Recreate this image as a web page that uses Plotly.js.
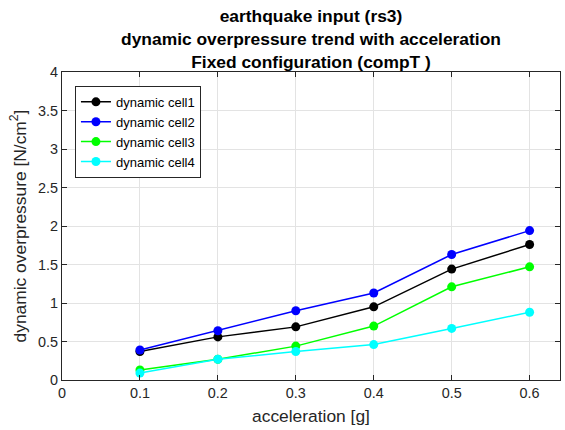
<!DOCTYPE html>
<html><head><meta charset="utf-8">
<script src="https://cdn.plot.ly/plotly-3.0.1.min.js"></script>
<style>body{margin:0;background:#fff}#chart{width:565px;height:430px}</style>
</head><body><div id="chart"></div>
<script>
const accel = [0.1, 0.2, 0.3, 0.4, 0.5, 0.6];
const cell1 = [0.37, 0.56, 0.69, 0.95, 1.44, 1.76];
const cell2 = [0.39, 0.64, 0.90, 1.13, 1.63, 1.94];
const cell3 = [0.13, 0.27, 0.44, 0.70, 1.21, 1.47];
const cell4 = [0.09, 0.27, 0.37, 0.46, 0.67, 0.88];
const names = ['dynamic cell1', 'dynamic cell2', 'dynamic cell3', 'dynamic cell4'];
const colors = ['#000000', '#0000ff', '#00ff00', '#00ffff'];
const series = [cell1, cell2, cell3, cell4];
const xTicks = [0, 0.1, 0.2, 0.3, 0.4, 0.5, 0.6];
const yTicks = [0, 0.5, 1, 1.5, 2, 2.5, 3, 3.5, 4];

const traces = series.map((s, i) => ({
  x: accel, y: s, name: names[i], type: 'scatter', mode: 'lines+markers',
  line: {color: colors[i], width: 1.5},
  marker: {color: colors[i], size: 9}
}));

const font = 'Liberation Sans, Arial, sans-serif';
const layout = {
  width: 565, height: 430,
  margin: {l: 62, r: 5, t: 72, b: 50},
  paper_bgcolor: '#fff', plot_bgcolor: '#fff',
  font: {family: font, size: 14.4, color: '#262626'},
  title: {text: '<b>earthquake input (rs3)<br>dynamic overpressure trend with acceleration<br>Fixed configuration (compT )</b>',
    font: {family: font, size: 17.4, color: '#000'},
    xref: 'paper', x: 0.5, xanchor: 'center',
    yref: 'container', y: 0.948, yanchor: 'bottom', pad: {b: 0, t: 0}},
  xaxis: {range: [0, 0.639], tickvals: xTicks, ticktext: xTicks.map(String),
    title: {text: 'acceleration [g]', font: {size: 17.4, color: '#262626'}, standoff: 9},
    showgrid: true, gridcolor: '#e3e3e3', zeroline: false,
    showline: true, linecolor: '#262626', linewidth: 1, mirror: 'ticks',
    ticks: 'inside', ticklen: 5, tickcolor: '#262626'},
  yaxis: {range: [0, 4], tickvals: yTicks, ticktext: yTicks.map(String),
    title: {text: 'dynamic overpressure [N/cm<sup>2</sup>]', font: {size: 17.4, color: '#262626'}, standoff: 7},
    showgrid: true, gridcolor: '#e3e3e3', zeroline: false,
    showline: true, linecolor: '#262626', linewidth: 1, mirror: 'ticks',
    ticks: 'inside', ticklen: 5, tickcolor: '#262626'},
  legend: {x: 0.026, y: 0.955, xanchor: 'left', yanchor: 'top',
    bgcolor: '#fff', bordercolor: '#262626', borderwidth: 1,
    font: {size: 13, color: '#000'}, tracegroupgap: 0, itemwidth: 30},
  showlegend: true
};
Plotly.newPlot('chart', traces, layout, {displayModeBar: false, staticPlot: true});
</script></body></html>
